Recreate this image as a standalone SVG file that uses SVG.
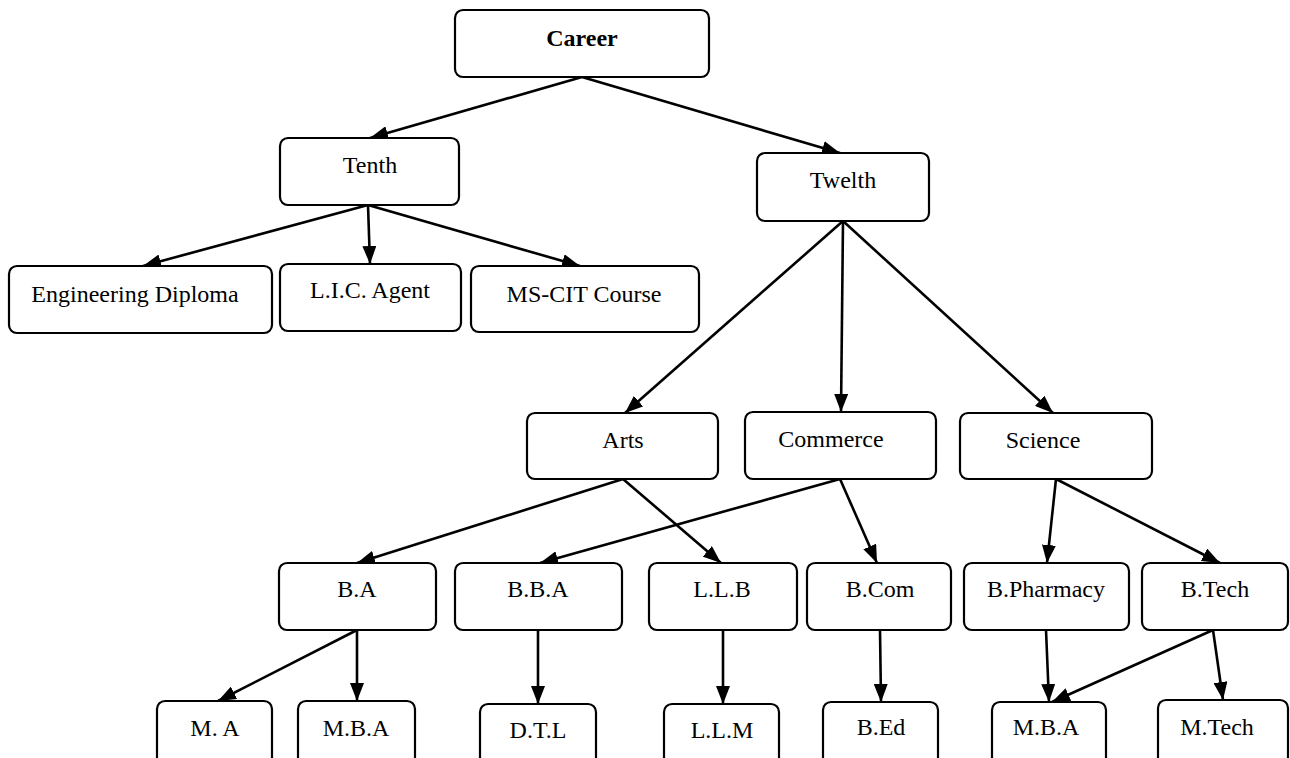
<svg xmlns="http://www.w3.org/2000/svg" width="1290" height="758" viewBox="0 0 1290 758">
<defs>
<marker id="ah" markerUnits="userSpaceOnUse" markerWidth="18" markerHeight="14" refX="18" refY="7" orient="auto">
<path d="M0,0 L18,7 L0,14 z" fill="#000"/>
</marker>
<style>
.box{fill:#fff;stroke:#000;stroke-width:2.2}
.t{font-family:"Liberation Serif","Times New Roman",serif;font-size:24px;fill:#000;text-anchor:middle}
.b{font-weight:bold}
.c line{stroke:#000;stroke-width:2.6;marker-end:url(#ah)}
</style>
</defs>
<rect width="1290" height="758" fill="#fff"/>
<g class="c" id="connectors">
<line x1="582" y1="77" x2="370" y2="138"/>
<line x1="582" y1="77" x2="840" y2="153"/>
<line x1="368" y1="205" x2="143" y2="266"/>
<line x1="368" y1="205" x2="370" y2="264"/>
<line x1="368" y1="205" x2="580" y2="266"/>
<line x1="843" y1="221" x2="625" y2="413"/>
<line x1="843" y1="221" x2="841" y2="412"/>
<line x1="843" y1="221" x2="1053" y2="413"/>
<line x1="623" y1="479" x2="357" y2="563"/>
<line x1="623" y1="479" x2="721" y2="563"/>
<line x1="840" y1="479" x2="540" y2="563"/>
<line x1="840" y1="479" x2="877" y2="563"/>
<line x1="1056" y1="479" x2="1047" y2="563"/>
<line x1="1056" y1="479" x2="1220" y2="563"/>
<line x1="357" y1="630" x2="218" y2="701"/>
<line x1="357" y1="630" x2="357" y2="701"/>
<line x1="538" y1="630" x2="538" y2="704"/>
<line x1="723" y1="630" x2="723" y2="704"/>
<line x1="880" y1="630" x2="881" y2="702"/>
<line x1="1046" y1="630" x2="1049" y2="702"/>
<line x1="1213" y1="630" x2="1052" y2="702"/>
<line x1="1213" y1="630" x2="1223" y2="700"/>
</g>
<g id="career"><rect class="box" x="455" y="10" width="254" height="67" rx="8"/><text class="t b" x="582" y="46">Career</text></g>
<g id="tenth"><rect class="box" x="280" y="138" width="179" height="67" rx="8"/><text class="t" x="370" y="173">Tenth</text></g>
<g id="twelth"><rect class="box" x="757" y="153" width="172" height="68" rx="8"/><text class="t" x="843" y="188">Twelth</text></g>
<g id="eng"><rect class="box" x="9" y="266" width="263" height="67" rx="8"/><text class="t" x="135" y="302">Engineering Diploma</text></g>
<g id="lic"><rect class="box" x="280" y="264" width="181" height="67" rx="8"/><text class="t" x="370" y="298">L.I.C. Agent</text></g>
<g id="mscit"><rect class="box" x="471" y="266" width="228" height="66" rx="8"/><text class="t" x="584" y="302">MS-CIT Course</text></g>
<g id="arts"><rect class="box" x="527" y="413" width="191" height="66" rx="8"/><text class="t" x="623" y="448">Arts</text></g>
<g id="commerce"><rect class="box" x="745" y="412" width="191" height="67" rx="8"/><text class="t" x="831" y="447">Commerce</text></g>
<g id="science"><rect class="box" x="960" y="413" width="192" height="66" rx="8"/><text class="t" x="1043" y="448">Science</text></g>
<g id="ba"><rect class="box" x="279" y="563" width="157" height="67" rx="8"/><text class="t" x="357" y="597">B.A</text></g>
<g id="bba"><rect class="box" x="455" y="563" width="167" height="67" rx="8"/><text class="t" x="538" y="597">B.B.A</text></g>
<g id="llb"><rect class="box" x="649" y="563" width="148" height="67" rx="8"/><text class="t" x="722" y="597">L.L.B</text></g>
<g id="bcom"><rect class="box" x="807" y="563" width="144" height="67" rx="8"/><text class="t" x="880" y="597">B.Com</text></g>
<g id="bpharmacy"><rect class="box" x="964" y="563" width="165" height="67" rx="8"/><text class="t" x="1046" y="597">B.Pharmacy</text></g>
<g id="btech"><rect class="box" x="1142" y="563" width="146" height="67" rx="8"/><text class="t" x="1215" y="597">B.Tech</text></g>
<g id="ma"><rect class="box" x="157" y="701" width="115" height="70" rx="8"/><text class="t" x="215" y="736">M. A</text></g>
<g id="mba1"><rect class="box" x="298" y="701" width="117" height="70" rx="8"/><text class="t" x="356" y="736">M.B.A</text></g>
<g id="dtl"><rect class="box" x="480" y="704" width="116" height="70" rx="8"/><text class="t" x="538" y="738">D.T.L</text></g>
<g id="llm"><rect class="box" x="664" y="704" width="115" height="70" rx="8"/><text class="t" x="722" y="738">L.L.M</text></g>
<g id="bed"><rect class="box" x="823" y="702" width="115" height="70" rx="8"/><text class="t" x="881" y="735">B.Ed</text></g>
<g id="mba2"><rect class="box" x="992" y="702" width="114" height="70" rx="8"/><text class="t" x="1046" y="735">M.B.A</text></g>
<g id="mtech"><rect class="box" x="1158" y="700" width="130" height="70" rx="8"/><text class="t" x="1217" y="735">M.Tech</text></g>
</svg>
